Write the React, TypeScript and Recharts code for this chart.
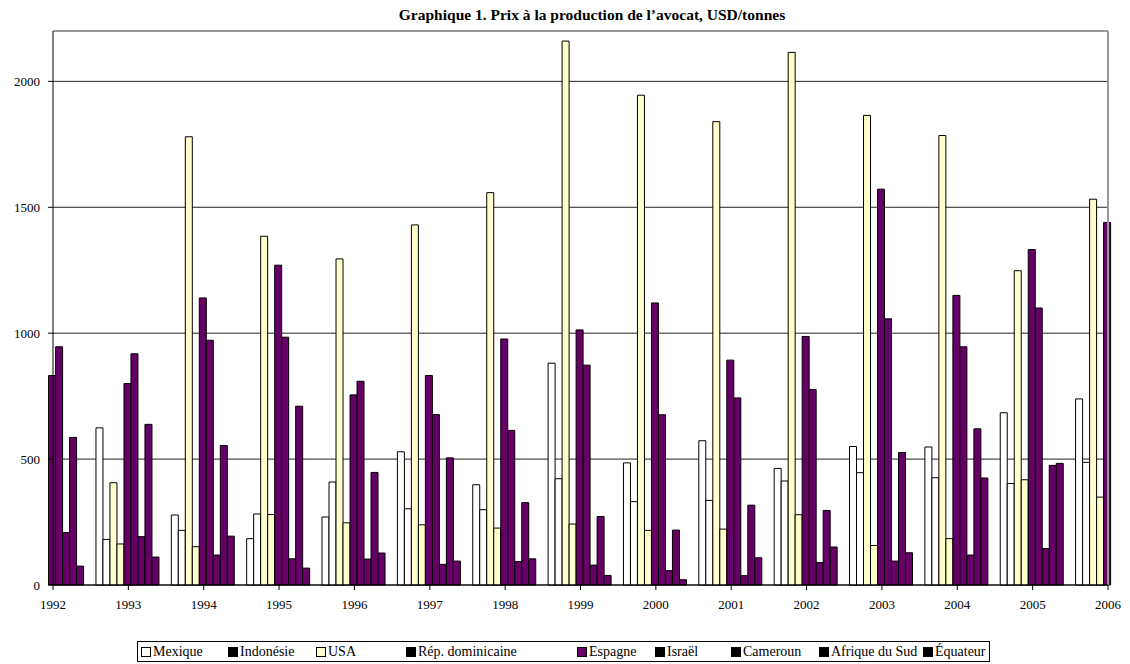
import {
  BarChart,
  Bar,
  XAxis,
  YAxis,
  CartesianGrid,
  ReferenceLine,
} from "recharts";

const years = [
  1992, 1993, 1994, 1995, 1996, 1997, 1998, 1999, 2000, 2001, 2002, 2003,
  2004, 2005, 2006,
];

// prix à la production, USD/tonnes (null = hors du graphique)
const mexique = [null, 624, 278, 184, 270, 529, 398, 881, 485, 573, 463, 550, 548, 684, 739];
const indonesie = [null, 181, 217, 282, 409, 303, 299, 422, 331, 336, 413, 446, 426, 403, 487];
const usa = [null, 406, 1780, 1385, 1295, 1430, 1558, 2160, 1945, 1840, 2115, 1865, 1785, 1248, 1532];
const repDominicaine = [null, 163, 152, 280, 247, 239, 226, 242, 217, 222, 279, 157, 184, 418, 349];
const espagne = [832, 800, 1140, 1270, 755, 832, 977, 1013, 1120, 893, 987, 1572, 1150, 1332, 1440];
const israel = [946, 918, 972, 984, 809, 677, 614, 873, 676, 743, 776, 1057, 946, 1100, null];
const cameroun = [208, 192, 119, 104, 103, 82, 93, 79, 57, 37, 89, 95, 119, 145, null];
const afriqueDuSud = [586, 638, 554, 710, 447, 505, 327, 272, 218, 317, 296, 526, 620, 475, null];
const equateur = [75, 111, 194, 67, 127, 95, 104, 38, 21, 108, 151, 128, 425, 483, null];

const yTicks = [0, 500, 1000, 1500, 2000];

const WHITE = "#FFFFFF";
const YELLOW = "#FFFFCC";
const PURPLE = "#660066";

const series = [
  { key: "mexique", name: "Mexique", values: mexique, fill: WHITE, legend: WHITE },
  { key: "indonesie", name: "Indonésie", values: indonesie, fill: WHITE, legend: "#000" },
  { key: "usa", name: "USA", values: usa, fill: YELLOW, legend: YELLOW },
  { key: "repDom", name: "Rép. dominicaine", values: repDominicaine, fill: YELLOW, legend: "#000" },
  { key: "espagne", name: "Espagne", values: espagne, fill: PURPLE, legend: PURPLE },
  { key: "israel", name: "Israël", values: israel, fill: PURPLE, legend: "#000" },
  { key: "cameroun", name: "Cameroun", values: cameroun, fill: PURPLE, legend: "#000" },
  { key: "afrique", name: "Afrique du Sud", values: afriqueDuSud, fill: PURPLE, legend: "#000" },
  { key: "equateur", name: "Équateur", values: equateur, fill: PURPLE, legend: "#000" },
];

// left edge of each legend entry (px, page coordinates)
const LEGEND_X = [141, 228, 316, 406, 577, 655, 731, 819, 923];

const data = years.map((year, i) => {
  const row: Record<string, number | null> = { year };
  series.forEach((s) => {
    row[s.key] = s.values[i];
  });
  return row;
});

const FONT = "'Liberation Serif', 'Times New Roman', serif";
const tickStyle = { fontFamily: FONT, fontSize: 13, fill: "#000" };

const App = () => {
  return (
    <div
      style={{
        position: "absolute",
        left: 0,
        top: 0,
        width: 1130,
        height: 664,
        background: "#fff",
        fontFamily: FONT,
      }}
    >
      <div
        style={{
          position: "absolute",
          top: 6,
          left: 12,
          width: 1160,
          textAlign: "center",
          fontWeight: "bold",
          fontSize: 15.5,
          color: "#000",
        }}
      >
        Graphique 1. Prix à la production de l’avocat, USD/tonnes
      </div>
      <BarChart
        width={1130}
        height={664}
        data={data}
        margin={{ top: 31, right: 22, bottom: 0, left: 0 }}
        barGap={0}
        barCategoryGap="7%"
      >
        <CartesianGrid vertical={false} stroke="#222" strokeOpacity={1} />
        <XAxis
          dataKey="year"
          type="number"
          domain={[1992, 2006]}
          ticks={years}
          interval={0}
          height={79}
          tick={tickStyle}
          tickSize={5}
          tickMargin={10}
          axisLine={{ stroke: "#000" }}
          tickLine={{ stroke: "#000" }}
        />
        <YAxis
          domain={[0, 2200]}
          ticks={yTicks}
          interval={0}
          width={53}
          tick={tickStyle}
          tickSize={5}
          tickMargin={8}
          axisLine={{ stroke: "#000" }}
          tickLine={{ stroke: "#000" }}
        />
        <ReferenceLine y={2200} stroke="#999" strokeWidth={2} />
        <ReferenceLine x={2006} stroke="#999" strokeWidth={2} />
        {series.map((s) => (
          <Bar
            key={s.key}
            dataKey={s.key}
            name={s.name}
            fill={s.fill}
            stroke="#000"
            strokeWidth={1}
            isAnimationActive={false}
          />
        ))}
      </BarChart>
      <div
        style={{
          position: "absolute",
          left: 137,
          top: 641,
          width: 853,
          height: 21,
          border: "1px solid #000",
          boxSizing: "border-box",
        }}
      />
      {series.map((s, i) => (
        <div
          key={s.key}
          style={{
            position: "absolute",
            left: LEGEND_X[i],
            top: 644,
            display: "flex",
            alignItems: "center",
            fontSize: 14,
            lineHeight: "16px",
            color: "#000",
            whiteSpace: "nowrap",
          }}
        >
          <span
            style={{
              display: "inline-block",
              width: 8,
              height: 8,
              background: s.legend,
              border: "1px solid #000",
              marginRight: 2,
            }}
          />
          {s.name}
        </div>
      ))}
    </div>
  );
};

export default App;
